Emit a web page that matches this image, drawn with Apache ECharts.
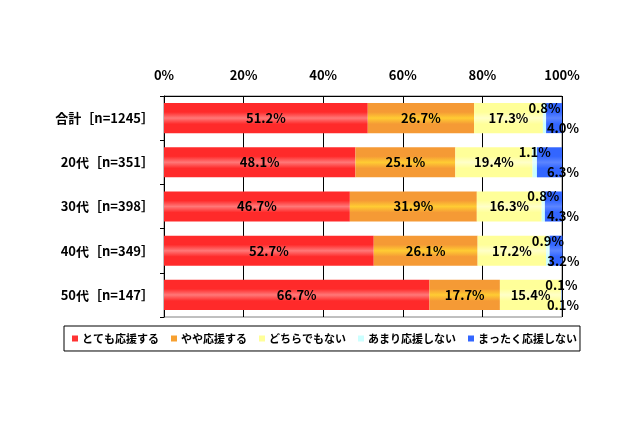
<!DOCTYPE html>
<html>
<head>
<meta charset="utf-8">
<script src="https://cdn.jsdelivr.net/npm/echarts@6/dist/echarts.min.js"></script>
<style>html,body{margin:0;padding:0;background:#fff;}#c{width:640px;height:426px;}</style>
</head>
<body>
<div id="c"></div>
<script>
const categories = ['合計［n=1245］', '20代［n=351］', '30代［n=398］', '40代［n=349］', '50代［n=147］'];
const seriesNames = ['とても応援する', 'やや応援する', 'どちらでもない', 'あまり応援しない', 'まったく応援しない'];
const veryMuch = [51.2, 48.1, 46.7, 52.7, 66.7];
const somewhat = [26.7, 25.1, 31.9, 26.1, 17.7];
const neutral = [17.3, 19.4, 16.3, 17.2, 15.4];
const notMuch = [0.8, 1.1, 0.8, 0.9, 0.1];
const notAtAll = [4.0, 6.3, 4.3, 3.2, 0.1];
const xTicks = [0, 20, 40, 60, 80, 100];

const FONT = '"Noto Sans CJK JP", "Noto Sans", sans-serif';
function grad(edge, mid) {
  return new echarts.graphic.LinearGradient(0, 0, 0, 1, [
    {offset: 0, color: edge}, {offset: 0.3, color: edge},
    {offset: 0.5, color: mid}, {offset: 0.7, color: edge}, {offset: 1, color: edge}
  ]);
}
const flatColors = ['#FF3333', '#F7A030', '#FFFF99', '#CCFFFF', '#3366FF'];
const fills = [grad('#FF2a2a', '#FF7878'), grad('#F59A35', '#FFCC33'), grad('#FFFF99', '#FFFFC8'), grad('#CCFFFF', '#E6FFFF'), grad('#3366FF', '#5C85FF')];
const dataSets = [veryMuch, somewhat, neutral, notMuch, notAtAll];

const labelBase = {show: true, color: '#000', fontFamily: FONT, fontWeight: 'bold', fontSize: 13,
  overflow: 'none', formatter: p => p.value.toFixed(1) + '%'};
const labelCfg = [
  Object.assign({}, labelBase, {position: 'inside'}),
  Object.assign({}, labelBase, {position: 'inside'}),
  Object.assign({}, labelBase, {position: 'inside'}),
  Object.assign({}, labelBase, {position: 'inside', offset: [0, -10]}),
  Object.assign({}, labelBase, {position: 'insideRight', offset: [22, 10]})
];

const series = seriesNames.map((n, i) => ({
  name: n, type: 'bar', stack: 'total', barCategoryGap: '32%',
  data: dataSets[i], itemStyle: {color: fills[i]}, label: labelCfg[i], clip: false
}));

const chart = echarts.init(document.getElementById('c'), null, {renderer: 'canvas'});
chart.setOption({
  animation: false,
  backgroundColor: '#fff',
  grid: {left: 164, right: 78, top: 96, bottom: 109, show: true, borderColor: '#808080', borderWidth: 1},
  legend: {
    data: seriesNames.map((n, i) => ({name: n, itemStyle: {color: flatColors[i]}})),
    left: 64, top: 326, orient: 'horizontal',
    itemWidth: 6, itemHeight: 6, itemGap: 12, icon: 'rect',
    padding: [7, 3, 7, 8], borderColor: '#000', borderWidth: 1,
    textStyle: {fontFamily: FONT, fontWeight: 'bold', fontSize: 11, color: '#000', padding: [0, 0, 0, -1]}
  },
  xAxis: {
    type: 'value', position: 'top', min: 0, max: 100, interval: 20,
    axisLine: {show: true, lineStyle: {color: '#000'}},
    axisTick: {show: false},
    splitLine: {show: true, lineStyle: {color: '#000', width: 1}},
    axisLabel: {margin: 14, color: '#000', fontFamily: FONT, fontWeight: 'bold', fontSize: 13,
      formatter: v => xTicks.indexOf(v) >= 0 ? v + '%' : ''}
  },
  yAxis: {
    type: 'category', inverse: true, data: categories,
    axisLine: {show: true, lineStyle: {color: '#000'}},
    axisTick: {show: true, length: 4, lineStyle: {color: '#000'}},
    axisLabel: {margin: 10, color: '#000', fontFamily: FONT, fontWeight: 'bold', fontSize: 13}
  },
  series: series
});
</script>
</body>
</html>
